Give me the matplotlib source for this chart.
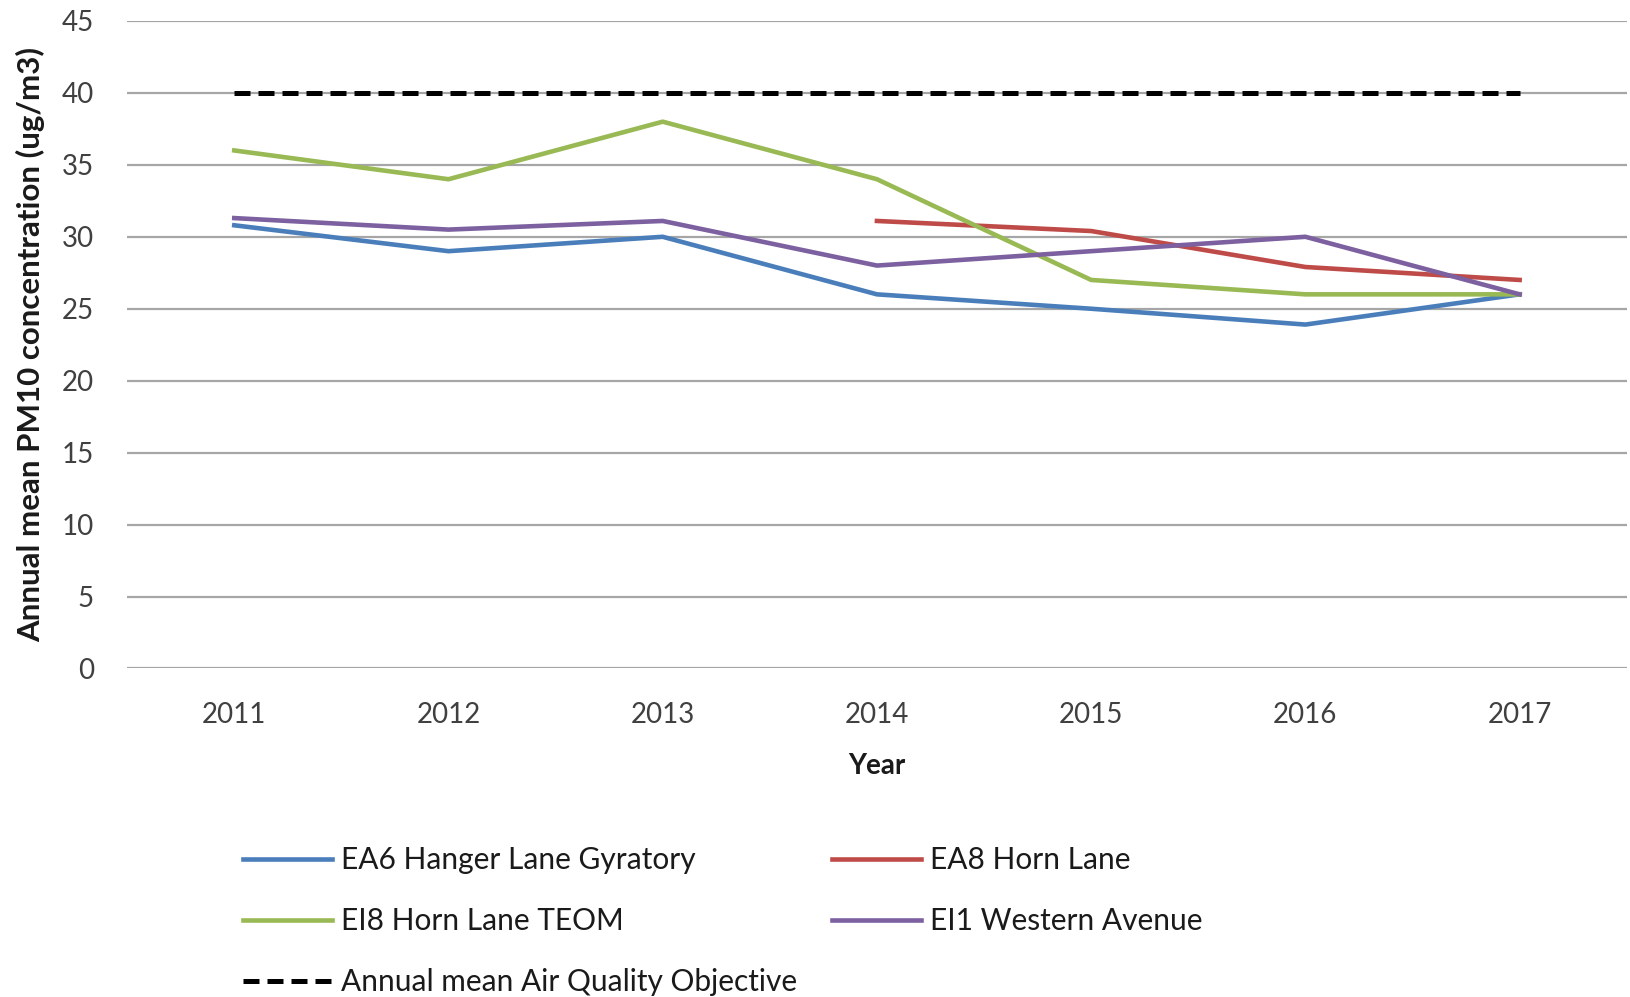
import matplotlib
matplotlib.use("Agg")
import matplotlib.pyplot as plt
import numpy as np

years = ["2011", "2012", "2013", "2014", "2015", "2016", "2017"]
ea6_hanger_lane = [30.8, 29.0, 30.0, 26.0, 25.0, 23.9, 26.0]
ea8_horn_lane = [np.nan, np.nan, np.nan, 31.1, 30.4, 27.9, 27.0]
ei8_horn_lane_teom = [36.0, 34.0, 38.0, 34.0, 27.0, 26.0, 26.0]
ei1_western_avenue = [31.3, 30.5, 31.1, 28.0, 29.0, 30.0, 26.0]
objective = [40, 40, 40, 40, 40, 40, 40]
yticks = [0, 5, 10, 15, 20, 25, 30, 35, 40, 45]

plt.rcParams['font.family'] = ['Lato', 'DejaVu Sans']

fig = plt.figure(figsize=(16.30, 9.97), dpi=100)
ax = fig.add_axes([0.078, 0.3295, 0.920, 0.6495])

x = np.arange(len(years))
lw = 3.3
l1, = ax.plot(x, ea6_hanger_lane, color="#4A7EBB", lw=lw, label="EA6 Hanger Lane Gyratory")
l2, = ax.plot(x, ea8_horn_lane, color="#BE4B48", lw=lw, label="EA8 Horn Lane")
l3, = ax.plot(x, ei8_horn_lane_teom, color="#98B954", lw=lw, label="EI8 Horn Lane TEOM")
l4, = ax.plot(x, ei1_western_avenue, color="#7D60A0", lw=lw, label="EI1 Western Avenue")
l5, = ax.plot(x, objective, color="black", lw=3.6, dashes=(3.2, 1.6),
              dash_capstyle="butt", label="Annual mean Air Quality Objective")

ax.set_xlim(-0.5, len(years) - 0.5)
ax.set_ylim(0, 45)
ax.set_yticks(yticks)
ax.set_xticks(x)
ax.set_xticklabels(years)
ax.yaxis.grid(True, color="#A6A6A6", lw=1.6)
ax.set_axisbelow(True)
for s in ax.spines.values():
    s.set_visible(False)
ax.tick_params(axis="both", length=0, labelsize=20, colors="#404040")
ax.tick_params(axis="y", pad=24)
ax.tick_params(axis="x", pad=24)

ax.set_ylabel("Annual mean PM10 concentration (ug/m3)", fontsize=22.5, fontweight="bold",
              color="#1a1a1a", labelpad=12)
ax.set_xlabel("Year", fontsize=20, fontweight="bold", color="#1a1a1a", labelpad=18)

handles = [l1, l3, l5, l2, l4]
leg = fig.legend(handles=handles, labels=[h.get_label() for h in handles],
                 ncol=2, loc="upper left", bbox_to_anchor=(0.136, 0.172),
                 frameon=False, fontsize=21.5, handlelength=3.0, handletextpad=0.3,
                 labelspacing=1.1, columnspacing=1.15, borderpad=0.2)
for t in leg.get_texts():
    t.set_color("#1a1a1a")

fig.savefig("out.png", dpi=100)
